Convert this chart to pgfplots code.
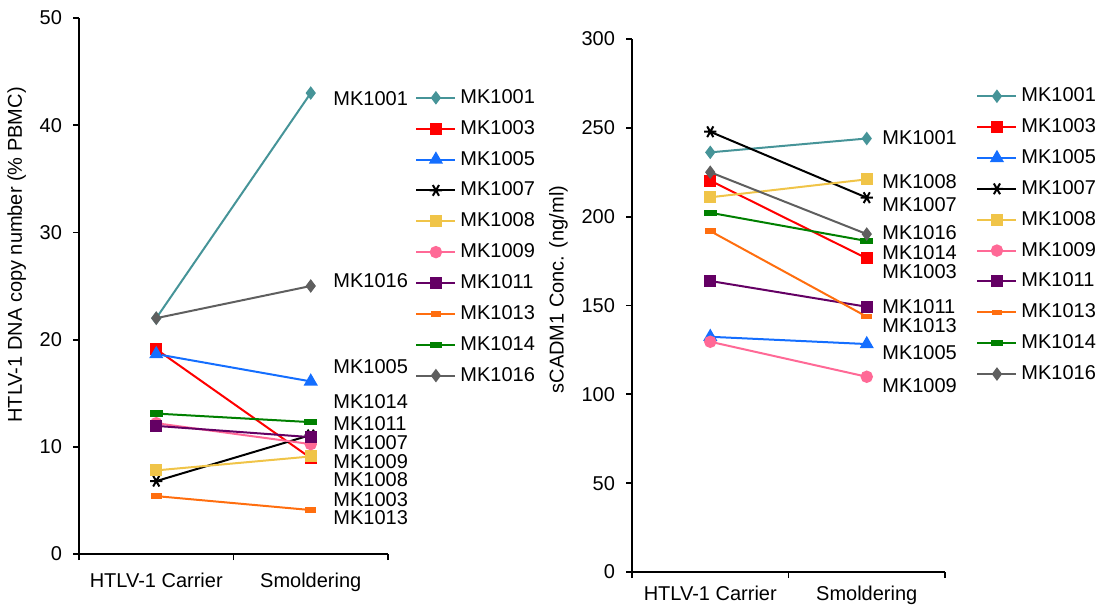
\documentclass[border=0pt]{standalone}
\usepackage{pgfplots}
\pgfplotsset{compat=1.18}
\usepackage{fontspec}
\setmainfont{Liberation Sans}
\definecolor{cA}{RGB}{70,148,152}
\definecolor{cB}{RGB}{255,0,0}
\definecolor{cC}{RGB}{20,110,255}
\definecolor{cD}{RGB}{0,0,0}
\definecolor{cE}{RGB}{240,196,72}
\definecolor{cF}{RGB}{255,105,150}
\definecolor{cG}{RGB}{100,0,100}
\definecolor{cH}{RGB}{255,110,15}
\definecolor{cI}{RGB}{0,128,0}
\definecolor{cJ}{RGB}{95,95,95}
\pgfplotsset{
  mystyle/.style={
    scale only axis,
    axis lines=left,
    axis line style={line width=0.9pt,-},
    clip=false,
    xmin=0,xmax=2,
    xtick={0,1,2},
    xticklabels={},
    extra x ticks={0.5,1.5},
    extra x tick labels={HTLV-1 Carrier,Smoldering},
    tick align=outside,
    major tick length=3pt,
    tick style={line width=0.9pt,black},
    /pgf/number format/assume math mode=true,
    tick label style={font=\normalsize},
    yticklabel style={xshift=-2pt},
    every axis plot/.append style={line width=1pt},
    legend cell align=left,
    legend style={draw=none,fill=none,row sep=2.95pt,font=\normalsize,
      nodes={inner sep=2pt}},
    legend image code/.code={
      \draw[mark repeat=2,mark phase=2] plot coordinates {(0pt,0pt) (9.75pt,0pt) (19.5pt,0pt)};},
  },
  sA/.style={color=cA,mark=diamond*,mark size=2.6pt},
  sB/.style={color=cB,mark=square*,mark size=2.5pt},
  sC/.style={color=cC,mark=triangle*,mark size=3.1pt},
  sD/.style={color=cD,mark=asterisk,mark size=3.1pt,mark options={line width=1pt,rotate=90}},
  sE/.style={color=cE,mark=square*,mark size=2.5pt},
  sF/.style={color=cF,mark=*,mark size=2.6pt},
  sG/.style={color=cG,mark=square*,mark size=2.5pt},
  sH/.style={color=cH,mark=square*,mark size=2pt,mark options={xscale=1.1,yscale=0.45}},
  sI/.style={color=cI,mark=square*,mark size=2.4pt,mark options={xscale=1.1,yscale=0.45}},
  sJ/.style={color=cJ,mark=diamond*,mark size=2.6pt},
}
\begin{document}
\begin{tikzpicture}
\useasboundingbox (0,0) rectangle (550.5pt,303pt);
% ---------------- left axis ----------------
\begin{axis}[mystyle,
  at={(39.5pt,26pt)},anchor=south west,
  width=154.5pt,height=268pt,
  ymin=0,ymax=50,ytick={0,10,20,30,40,50},
  extra x tick style={major tick length=0pt,tick label style={yshift=-6pt}},
  ylabel={HTLV-1 DNA copy number (\% PBMC)},
  every axis y label/.style={at={(ticklabel cs:0.558)},rotate=90,anchor=near ticklabel},
  legend style={at={(1.068,0.592)},anchor=west},
]
\addplot[sA] coordinates {(0.5,22.0) (1.5,43.0)};
\addplot[sB] coordinates {(0.5,19.1) (1.5,8.95)};
\addplot[sC] coordinates {(0.5,18.65) (1.5,16.1)};
\addplot[sD] coordinates {(0.5,6.8) (1.5,11.1)};
\addplot[sE] coordinates {(0.5,7.8) (1.5,9.1)};
\addplot[sF] coordinates {(0.5,12.2) (1.5,10.25)};
\addplot[sG] coordinates {(0.5,11.95) (1.5,10.9)};
\addplot[sH] coordinates {(0.5,5.4) (1.5,4.1)};
\addplot[sI] coordinates {(0.5,13.1) (1.5,12.3)};
\addplot[sJ] coordinates {(0.5,22.0) (1.5,25.0)};
\legend{MK1001,MK1003,MK1005,MK1007,MK1008,MK1009,MK1011,MK1013,MK1014,MK1016}
\node[anchor=west,inner sep=0pt] at (axis cs:1.644,42.5) {MK1001};
\node[anchor=west,inner sep=0pt] at (axis cs:1.644,25.5) {MK1016};
\node[anchor=west,inner sep=0pt] at (axis cs:1.644,17.5) {MK1005};
\node[anchor=west,inner sep=0pt] at (axis cs:1.644,14.2) {MK1014};
\node[anchor=west,inner sep=0pt] at (axis cs:1.644,12.2) {MK1011};
\node[anchor=west,inner sep=0pt] at (axis cs:1.644,10.35) {MK1007};
\node[anchor=west,inner sep=0pt] at (axis cs:1.644,8.6) {MK1009};
\node[anchor=west,inner sep=0pt] at (axis cs:1.644,6.9) {MK1008};
\node[anchor=west,inner sep=0pt] at (axis cs:1.644,5.1) {MK1003};
\node[anchor=west,inner sep=0pt] at (axis cs:1.644,3.36) {MK1013};
\end{axis}
% ---------------- right axis ----------------
\begin{axis}[mystyle,
  at={(316pt,17pt)},anchor=south west,
  width=156.5pt,height=266.5pt,
  ymin=0,ymax=300,ytick={0,50,100,150,200,250,300},
  extra x tick style={major tick length=0pt,tick label style={yshift=-3.5pt}},
  ylabel={sCADM1 Conc. (ng/ml)},
  every axis y label/.style={at={(ticklabel cs:0.53)},rotate=90,anchor=near ticklabel},
  legend style={at={(1.080,0.632)},anchor=west},
]
\addplot[sA] coordinates {(0.5,236.2) (1.5,244.0)};
\addplot[sB] coordinates {(0.5,220.3) (1.5,176.5)};
\addplot[sC] coordinates {(0.5,132.4) (1.5,128.3)};
\addplot[sD] coordinates {(0.5,247.8) (1.5,210.7)};
\addplot[sE] coordinates {(0.5,210.9) (1.5,221.0)};
\addplot[sF] coordinates {(0.5,129.6) (1.5,109.9)};
\addplot[sG] coordinates {(0.5,163.8) (1.5,149.3)};
\addplot[sH] coordinates {(0.5,191.9) (1.5,143.7)};
\addplot[sI] coordinates {(0.5,202.2) (1.5,186.3)};
\addplot[sJ] coordinates {(0.5,225.0) (1.5,190.2)};
\legend{MK1001,MK1003,MK1005,MK1007,MK1008,MK1009,MK1011,MK1013,MK1014,MK1016}
\node[anchor=west,inner sep=0pt] at (axis cs:1.597,244.3) {MK1001};
\node[anchor=west,inner sep=0pt] at (axis cs:1.597,220.0) {MK1008};
\node[anchor=west,inner sep=0pt] at (axis cs:1.597,207.0) {MK1007};
\node[anchor=west,inner sep=0pt] at (axis cs:1.597,190.8) {MK1016};
\node[anchor=west,inner sep=0pt] at (axis cs:1.597,180.0) {MK1014};
\node[anchor=west,inner sep=0pt] at (axis cs:1.597,168.9) {MK1003};
\node[anchor=west,inner sep=0pt] at (axis cs:1.597,149.2) {MK1011};
\node[anchor=west,inner sep=0pt] at (axis cs:1.597,138.5) {MK1013};
\node[anchor=west,inner sep=0pt] at (axis cs:1.597,123.3) {MK1005};
\node[anchor=west,inner sep=0pt] at (axis cs:1.597,104.7) {MK1009};
\end{axis}
\end{tikzpicture}
\end{document}
